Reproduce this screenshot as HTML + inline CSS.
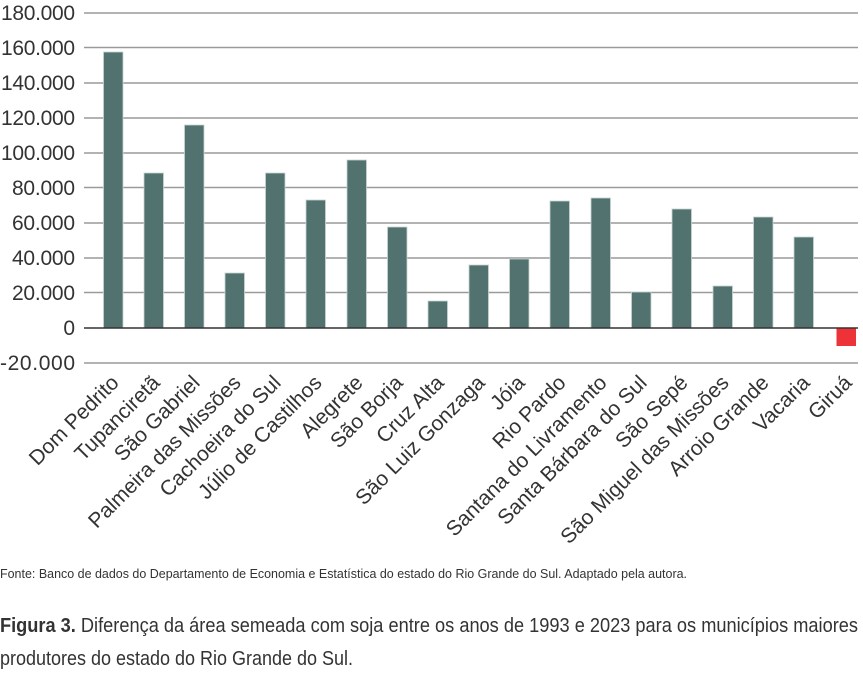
<!DOCTYPE html>
<html><head><meta charset="utf-8"><style>
html,body{margin:0;padding:0;background:#fff;}
svg{display:block;font-family:"Liberation Sans Narrow","Liberation Sans",sans-serif;}
</style></head><body>
<svg width="863" height="685" viewBox="0 0 863 685">
<g stroke="#9a9a9a" stroke-width="1.5">
<line x1="84" x2="858" y1="13" y2="13"/><line x1="84" x2="858" y1="47.5" y2="47.5"/>
<line x1="84" x2="858" y1="83" y2="83"/><line x1="84" x2="858" y1="118" y2="118"/>
<line x1="84" x2="858" y1="153" y2="153"/><line x1="84" x2="858" y1="187.5" y2="187.5"/>
<line x1="84" x2="858" y1="223" y2="223"/><line x1="84" x2="858" y1="258" y2="258"/>
<line x1="84" x2="858" y1="292.5" y2="292.5"/><line x1="84" x2="858" y1="363" y2="363"/>
</g>
<g fill="#333" font-size="21" text-anchor="end">
<text x="75" y="20" textLength="74">180.000</text><text x="75" y="55" textLength="74">160.000</text>
<text x="75" y="90" textLength="74">140.000</text><text x="75" y="125" textLength="74">120.000</text>
<text x="75" y="160" textLength="74">100.000</text><text x="75" y="195" textLength="63">80.000</text>
<text x="75" y="230" textLength="63">60.000</text><text x="75" y="265" textLength="63">40.000</text>
<text x="75" y="300" textLength="63">20.000</text><text x="75" y="335">0</text>
<text x="75" y="370" textLength="75">-20.000</text>
</g>
<g fill="#527270" stroke="#c8d4d3" stroke-width="0.8">
<rect x="103.5" y="52" width="19.5" height="276"/>
<rect x="144" y="173" width="19.5" height="155"/>
<rect x="184.5" y="125" width="19.5" height="203"/>
<rect x="225" y="273" width="19.5" height="55"/>
<rect x="265.5" y="173" width="19.5" height="155"/>
<rect x="306" y="200" width="19.5" height="128"/>
<rect x="347" y="160" width="19.5" height="168"/>
<rect x="387.5" y="227" width="19.5" height="101"/>
<rect x="428" y="301" width="19.5" height="27"/>
<rect x="469" y="265" width="19.5" height="63"/>
<rect x="509.5" y="259" width="19.5" height="69"/>
<rect x="550" y="201" width="19.5" height="127"/>
<rect x="591" y="198" width="19.5" height="130"/>
<rect x="631.5" y="292" width="19.5" height="36"/>
<rect x="672" y="209" width="19.5" height="119"/>
<rect x="713" y="286" width="19.5" height="42"/>
<rect x="753.5" y="217" width="19.5" height="111"/>
<rect x="794" y="237" width="19.5" height="91"/>
</g>
<rect x="836.5" y="328" width="19.5" height="18" fill="#ee3338"/>
<line x1="84" x2="858" y1="328" y2="328" stroke="#333" stroke-width="1.5"/>
<g fill="#333" font-size="21" text-anchor="end">
<text transform="translate(120,384) rotate(-45)">Dom Pedrito</text>
<text transform="translate(161,384) rotate(-45)">Tupanciretã</text>
<text transform="translate(201,384) rotate(-45)">São Gabriel</text>
<text transform="translate(242,384) rotate(-45)">Palmeira das Missões</text>
<text transform="translate(282,384) rotate(-45)">Cachoeira do Sul</text>
<text transform="translate(323,384) rotate(-45)">Júlio de Castilhos</text>
<text transform="translate(364,384) rotate(-45)">Alegrete</text>
<text transform="translate(404,384) rotate(-45)">São Borja</text>
<text transform="translate(445,384) rotate(-45)">Cruz Alta</text>
<text transform="translate(486,384) rotate(-45)">São Luiz Gonzaga</text>
<text transform="translate(526,384) rotate(-45)">Jóia</text>
<text transform="translate(567,384) rotate(-45)">Rio Pardo</text>
<text transform="translate(608,384) rotate(-45)">Santana do Livramento</text>
<text transform="translate(648,384) rotate(-45)">Santa Bárbara do Sul</text>
<text transform="translate(689,384) rotate(-45)">São Sepé</text>
<text transform="translate(730,384) rotate(-45)">São Miguel das Missões</text>
<text transform="translate(770,384) rotate(-45)">Arroio Grande</text>
<text transform="translate(811,384) rotate(-45)">Vacaria</text>
<text transform="translate(853,384) rotate(-45)">Giruá</text>
</g>
<text x="0" y="578" font-size="13" fill="#333" textLength="687" lengthAdjust="spacingAndGlyphs">Fonte: Banco de dados do Departamento de Economia e Estatística do estado do Rio Grande do Sul. Adaptado pela autora.</text>
<text x="0" y="632" font-size="20" fill="#333" textLength="858" lengthAdjust="spacingAndGlyphs"><tspan font-weight="bold">Figura 3.</tspan> Diferença da área semeada com soja entre os anos de 1993 e 2023 para os municípios maiores</text>
<text x="0" y="665" font-size="20" fill="#333" textLength="353" lengthAdjust="spacingAndGlyphs">produtores do estado do Rio Grande do Sul.</text>
</svg>
</body></html>
